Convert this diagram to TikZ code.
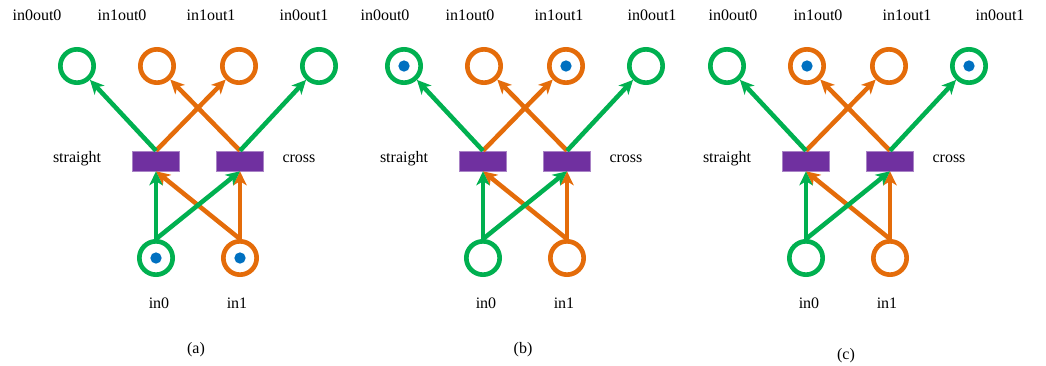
\documentclass[tikz,border=0pt]{standalone}
\usepackage{fontspec}
\setmainfont{Liberation Serif}
\usetikzlibrary{arrows.meta}
\definecolor{netgreen}{HTML}{00B050}
\definecolor{netorange}{HTML}{E46C0A}
\definecolor{netpurple}{HTML}{7030A0}
\definecolor{netblue}{HTML}{0070C0}
\tikzset{
  place/.style={circle, draw=#1, line width=3.5pt, minimum size=25pt,
    inner sep=0pt},
  switchbox/.style={rectangle, fill=netpurple, draw=netpurple!60,
    line width=0.4pt, minimum width=35pt, minimum height=15pt, inner sep=0pt},
  token/.style={circle, fill=netblue, minimum size=8.5pt, inner sep=0pt},
  wire/.style={draw=#1, line width=3.4pt,
    -{Stealth[length=10.5pt, width=10pt, inset=3pt]}},
  lbl/.style={anchor=base, inner sep=0pt, font=\fontsize{12}{14}\selectfont}
}

\begin{document}
\begin{tikzpicture}[x=0.75pt, y=-0.75pt]
  \useasboundingbox (0, 0) rectangle (1046, 365);
  \foreach \c/\s/\p/\capy in {198/0/a/353, 525/21/b/353, 848/46/c/359} {
    % places and switches
    \node[place=netgreen] (o00-\p) at (\c-121, 66) {};
    \node[place=netorange] (o10-\p) at (\c-41, 66) {};
    \node[place=netorange] (o11-\p) at (\c+41, 66) {};
    \node[place=netgreen] (o01-\p) at (\c+121, 66) {};
    \node[switchbox] (st-\p) at (\c-42, 161) {};
    \node[switchbox] (cr-\p) at (\c+42, 161) {};
    \node[place=netgreen] (in0-\p) at (\c-42, 258) {};
    \node[place=netorange] (in1-\p) at (\c+42, 258) {};
    % arcs
    \draw[wire=netorange] (st-\p.north) -- (o11-\p);
    \draw[wire=netorange] (cr-\p.north) -- (o10-\p);
    \draw[wire=netorange] (in1-\p.north) -- (st-\p.south);
    \draw[wire=netorange] (in1-\p.north) -- (cr-\p.south);
    \draw[wire=netgreen] (st-\p.north) -- (o00-\p);
    \draw[wire=netgreen] (cr-\p.north) -- (o01-\p);
    \draw[wire=netgreen] (in0-\p.north) -- (st-\p.south);
    \draw[wire=netgreen] (in0-\p.north) -- (cr-\p.south);
    % labels
    \node[lbl] (l00-\p) at (\c-161+\s, 20) {in0out0};
    \node[lbl] (l10-\p) at (\c-76+\s, 20) {in1out0};
    \node[lbl] (l11-\p) at (\c+13+\s, 20) {in1out1};
    \node[lbl] (l01-\p) at (\c+106+\s, 20) {in0out1};
    \node[lbl] (lst-\p) at (\c-121, 162.5) {straight};
    \node[lbl] (lcr-\p) at (\c+101, 162.5) {cross};
    \node[lbl] (lin0-\p) at (\c-39, 308) {in0};
    \node[lbl] (lin1-\p) at (\c+39, 308) {in1};
    \node[lbl] (cap-\p) at (\c-2, \capy) {(\p)};
  }
  % tokens
  \node[token] at (in0-a) {};
  \node[token] at (in1-a) {};
  \node[token] at (o00-b) {};
  \node[token] at (o11-b) {};
  \node[token] at (o10-c) {};
  \node[token] at (o01-c) {};
\end{tikzpicture}
\end{document}
